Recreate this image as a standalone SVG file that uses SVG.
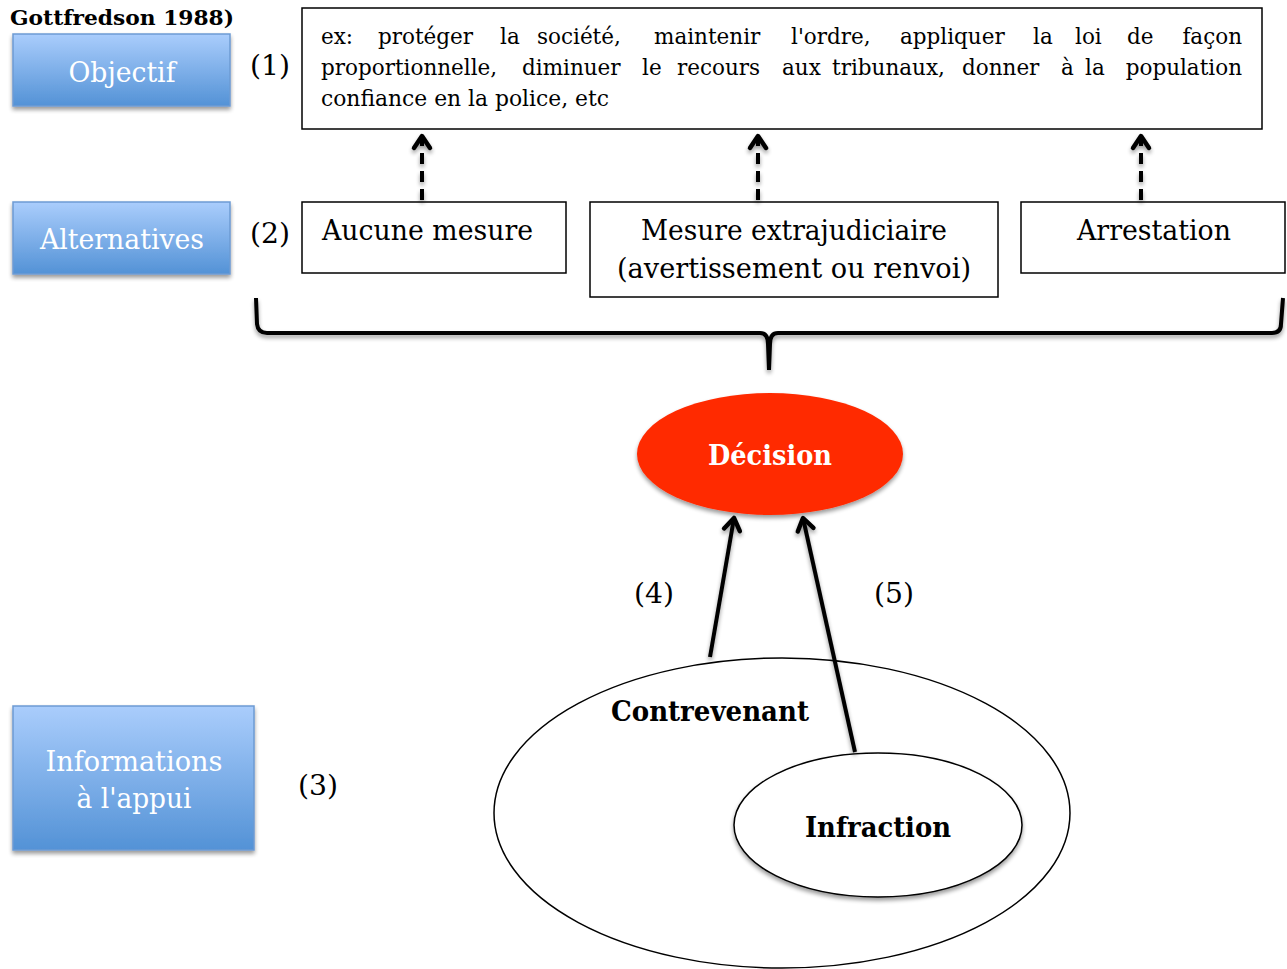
<svg xmlns="http://www.w3.org/2000/svg" width="1287" height="969" viewBox="0 0 1287 969">
<defs>
<linearGradient id="blue" x1="0" y1="0" x2="0" y2="1">
<stop offset="0" stop-color="#aacdfc"/>
<stop offset="1" stop-color="#5392d6"/>
</linearGradient>
<filter id="sh" x="-10%" y="-10%" width="120%" height="130%">
<feGaussianBlur in="SourceAlpha" stdDeviation="2"/>
<feOffset dx="0" dy="3" result="b"/>
<feComponentTransfer><feFuncA type="linear" slope="0.4"/></feComponentTransfer>
<feMerge><feMergeNode/><feMergeNode in="SourceGraphic"/></feMerge>
</filter>
<marker id="chev" markerUnits="userSpaceOnUse" markerWidth="30" markerHeight="30" refX="0" refY="0" viewBox="-15 -15 30 30" orient="auto" overflow="visible">
<path d="M-12,-8 L0,0 L-12,8" fill="none" stroke="#000" stroke-width="4.5" stroke-linecap="round" stroke-linejoin="round"/>
</marker>
<style>
.lbl{font-family:"DejaVu Serif",serif;font-size:27px;fill:#000;}
.num{font-family:"DejaVu Serif",serif;font-size:27px;fill:#000;}
.btn{fill:url(#blue);stroke:#6c9bd3;stroke-width:1.5;filter:url(#sh);}
.btxt{font-family:"DejaVu Serif",serif;font-size:28px;fill:#fff;text-anchor:middle;}
.box{fill:#fff;stroke:#000;stroke-width:1.5;}
.bold{font-family:"DejaVu Serif",serif;font-weight:bold;fill:#000;}
.body{font-family:"DejaVu Serif",serif;font-size:21.5px;fill:#000;}
.conn{fill:none;stroke:#000;stroke-width:4;}
</style>
</defs>
<rect width="1287" height="969" fill="#fff"/>

<text class="bold" x="10" y="25" font-size="21" textLength="224" lengthAdjust="spacingAndGlyphs">Gottfredson 1988)</text>

<g id="objectif">
<rect class="btn" x="13" y="34" width="217" height="72"/>
<text class="btxt" x="122" y="82" textLength="107" lengthAdjust="spacingAndGlyphs">Objectif</text>
</g>
<g id="alternatives">
<rect class="btn" x="13" y="202" width="217" height="72"/>
<text class="btxt" x="122" y="249" textLength="164" lengthAdjust="spacingAndGlyphs">Alternatives</text>
</g>
<g id="informations">
<rect class="btn" x="13" y="706" width="241" height="144"/>
<text class="btxt" x="134" y="771" textLength="177" lengthAdjust="spacingAndGlyphs">Informations</text>
<text class="btxt" x="134" y="808" textLength="115" lengthAdjust="spacingAndGlyphs">à l'appui</text>
</g>

<text class="num" x="250" y="75" textLength="40" lengthAdjust="spacingAndGlyphs">(1)</text>
<text class="num" x="250" y="243" textLength="40" lengthAdjust="spacingAndGlyphs">(2)</text>
<text class="num" x="298" y="795" textLength="40" lengthAdjust="spacingAndGlyphs">(3)</text>
<text class="num" x="634" y="603" textLength="40" lengthAdjust="spacingAndGlyphs">(4)</text>
<text class="num" x="874" y="603" textLength="40" lengthAdjust="spacingAndGlyphs">(5)</text>
<text class="num" x="634" y="843" textLength="40" lengthAdjust="spacingAndGlyphs">(6)</text>

<g id="objectif-text">
<rect class="box" x="302" y="8" width="960" height="121"/>
<text class="body" y="44"><tspan x="321">ex:</tspan><tspan x="378">protéger</tspan><tspan x="500">la</tspan><tspan x="537">société,</tspan><tspan x="654">maintenir</tspan><tspan x="791">l'ordre,</tspan><tspan x="900">appliquer</tspan><tspan x="1033">la</tspan><tspan x="1075">loi</tspan><tspan x="1127">de</tspan><tspan x="1242" text-anchor="end">façon</tspan></text>
<text class="body" y="75"><tspan x="321">proportionnelle,</tspan><tspan x="522">diminuer</tspan><tspan x="642">le</tspan><tspan x="677">recours</tspan><tspan x="782">aux</tspan><tspan x="832">tribunaux,</tspan><tspan x="962">donner</tspan><tspan x="1061">à</tspan><tspan x="1085">la</tspan><tspan x="1242" text-anchor="end">population</tspan></text>
<text class="body" x="321" y="106" textLength="288" lengthAdjust="spacingAndGlyphs">confiance en la police, etc</text>
</g>

<g id="aucune">
<rect class="box" x="302" y="202" width="264" height="71"/>
<text class="lbl" x="322" y="240" textLength="211" lengthAdjust="spacingAndGlyphs">Aucune mesure</text>
</g>
<g id="extrajudiciaire">
<rect class="box" x="590" y="202" width="408" height="95"/>
<text class="lbl" x="641" y="240" textLength="306" lengthAdjust="spacingAndGlyphs">Mesure extrajudiciaire</text>
<text class="lbl" x="617" y="278" textLength="354" lengthAdjust="spacingAndGlyphs">(avertissement ou renvoi)</text>
</g>
<g id="arrestation">
<rect class="box" x="1021" y="202" width="264" height="71"/>
<text class="lbl" x="1077" y="240" textLength="154" lengthAdjust="spacingAndGlyphs">Arrestation</text>
</g>

<g id="decision">
<ellipse cx="770" cy="454" rx="133" ry="61" fill="#ff2a00" filter="url(#sh)"/>
<text class="bold" x="708" y="465" font-size="27" style="fill:#fff" textLength="124" lengthAdjust="spacingAndGlyphs">Décision</text>
</g>

<g id="contrevenant">
<ellipse cx="782" cy="813" rx="288" ry="155" fill="#fff" stroke="#000" stroke-width="1.5"/>
<text class="bold" x="611" y="721" font-size="27" textLength="198" lengthAdjust="spacingAndGlyphs">Contrevenant</text>
</g>
<g id="infraction">
<ellipse cx="878" cy="825" rx="144" ry="72" fill="#fff" stroke="#000" stroke-width="1.5" filter="url(#sh)"/>
<text class="bold" x="805" y="837" font-size="27" textLength="146" lengthAdjust="spacingAndGlyphs">Infraction</text>
</g>

<g id="connectors" filter="url(#sh)">
<line class="conn" x1="422" y1="200" x2="422" y2="136" stroke-dasharray="11,7" marker-end="url(#chev)"/>
<line class="conn" x1="758" y1="200" x2="758" y2="136" stroke-dasharray="11,7" marker-end="url(#chev)"/>
<line class="conn" x1="1141" y1="200" x2="1141" y2="136" stroke-dasharray="11,7" marker-end="url(#chev)"/>
<path class="conn" d="M256,298 L257,324 Q258,333 267,333 L760,333 Q768,333 768,344 L769,370 M769,370 L770,344 Q770,333 778,333 L1272,333 Q1281,333 1281,324 L1283,298" stroke-linejoin="round"/>
<line class="conn" x1="710" y1="657" x2="734" y2="518" marker-end="url(#chev)"/>
<line class="conn" x1="855" y1="752" x2="803" y2="518" marker-end="url(#chev)"/>
</g>
</svg>
